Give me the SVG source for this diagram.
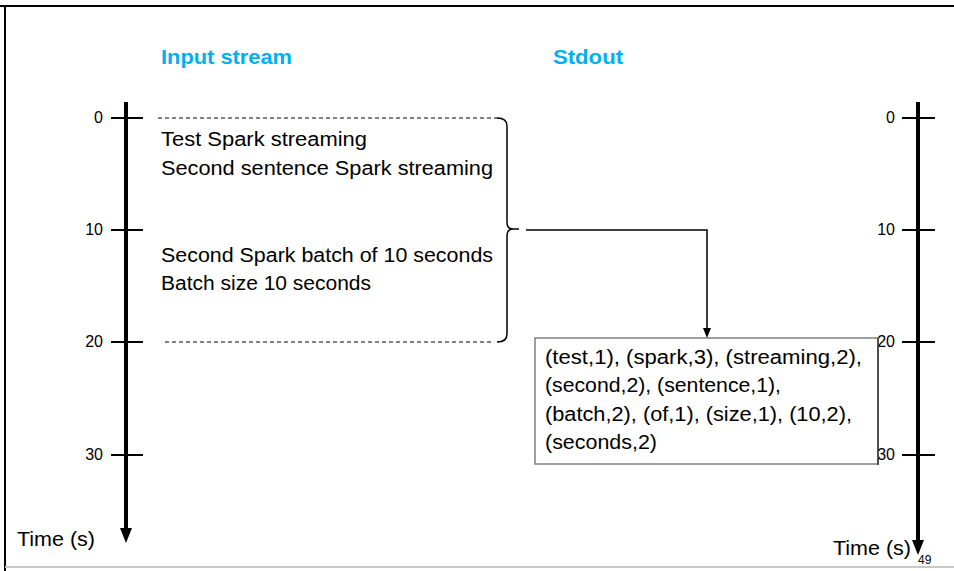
<svg xmlns="http://www.w3.org/2000/svg" width="954" height="571" viewBox="0 0 954 571">
<defs>
<style>
text{font-family:"Liberation Sans",Arial,sans-serif;fill:#000}
.t{font-size:20px}
.h{font-size:20px;font-weight:bold;fill:#00B0F0}
.n{font-size:16px}
.axis{stroke:#000;stroke-width:4;fill:none}
.tick{stroke:#000;stroke-width:2}
.dash{stroke:#000;stroke-width:1;stroke-dasharray:4 3;fill:none}
.ln{stroke:#000;stroke-width:1.5;fill:none}
</style>
</defs>
<rect width="954" height="571" fill="#fff"/>
<g id="frame">
<line x1="0" y1="6" x2="954" y2="6" stroke="#000" stroke-width="2"/>
<line x1="5" y1="5" x2="5" y2="571" stroke="#000" stroke-width="2"/>
<line x1="5" y1="567" x2="954" y2="567" stroke="#c8c8c8" stroke-width="2"/>
</g>
<g id="titles">
<text class="h" x="161" y="64" textLength="131" lengthAdjust="spacingAndGlyphs">Input stream</text>
<text class="h" x="553" y="64" textLength="70" lengthAdjust="spacingAndGlyphs">Stdout</text>
</g>
<g id="left-axis">
<line class="axis" x1="126" y1="102" x2="126" y2="532"/>
<path d="M120,528 L132,528 L126,543 Z" fill="#000"/>
<line class="tick" x1="111" y1="118" x2="143" y2="118"/>
<line class="tick" x1="111" y1="230" x2="143" y2="230"/>
<line class="tick" x1="111" y1="342" x2="143" y2="342"/>
<line class="tick" x1="111" y1="455" x2="143" y2="455"/>
<text class="n" x="103" y="123" text-anchor="end">0</text>
<text class="n" x="103" y="235" text-anchor="end">10</text>
<text class="n" x="103" y="347" text-anchor="end">20</text>
<text class="n" x="103" y="460" text-anchor="end">30</text>
<text class="t" x="17" y="546" textLength="78" lengthAdjust="spacingAndGlyphs">Time (s)</text>
</g>
<g id="right-axis">
<line class="axis" x1="918" y1="102" x2="918" y2="544"/>
<path d="M912,540 L924,540 L918,555 Z" fill="#000"/>
<line class="tick" x1="902" y1="118" x2="935" y2="118"/>
<line class="tick" x1="902" y1="230" x2="935" y2="230"/>
<line class="tick" x1="902" y1="342" x2="935" y2="342"/>
<line class="tick" x1="902" y1="455" x2="935" y2="455"/>
<text class="n" x="895" y="123" text-anchor="end">0</text>
<text class="n" x="895" y="235" text-anchor="end">10</text>
<text class="n" x="895" y="347" text-anchor="end">20</text>
<text class="n" x="895" y="460" text-anchor="end">30</text>
<text class="t" x="833" y="555" textLength="78" lengthAdjust="spacingAndGlyphs">Time (s)</text>
<text x="918" y="564" font-size="12" fill="#808080">49</text>
</g>
<g id="input-batch">
<line class="dash" x1="158" y1="118" x2="500" y2="118"/>
<line class="dash" x1="165" y1="342" x2="493" y2="342"/>
<text class="t" x="161" y="146" textLength="206" lengthAdjust="spacingAndGlyphs">Test Spark streaming</text>
<text class="t" x="161" y="175" textLength="332" lengthAdjust="spacingAndGlyphs">Second sentence Spark streaming</text>
<text class="t" x="161" y="262" textLength="332" lengthAdjust="spacingAndGlyphs">Second Spark batch of 10 seconds</text>
<text class="t" x="161" y="290" textLength="210" lengthAdjust="spacingAndGlyphs">Batch size 10 seconds</text>
</g>
<g id="output-box">
<rect x="535" y="338" width="343" height="126" fill="#fff" stroke="#808080" stroke-width="1.5"/>
<line x1="878" y1="338" x2="878" y2="465" stroke="#000" stroke-width="1"/>
<text class="t" x="545" y="364" textLength="317" lengthAdjust="spacingAndGlyphs">(test,1), (spark,3), (streaming,2),</text>
<text class="t" x="545" y="392" textLength="236" lengthAdjust="spacingAndGlyphs">(second,2), (sentence,1),</text>
<text class="t" x="545" y="421" textLength="307" lengthAdjust="spacingAndGlyphs">(batch,2), (of,1), (size,1), (10,2),</text>
<text class="t" x="545" y="449" textLength="112" lengthAdjust="spacingAndGlyphs">(seconds,2)</text>
</g>
<g id="connectors">
<path class="ln" d="M497,118 Q507,118 507,126 L507,222 Q507,229 513,229 L519,229 M513,229 Q507,229 507,236 L507,334 Q507,342 497,342"/>
<path class="ln" d="M526,230 L707,230 L707,330"/>
<path d="M703,328 L711,328 L707,338 Z" fill="#000"/>
</g>
</svg>
